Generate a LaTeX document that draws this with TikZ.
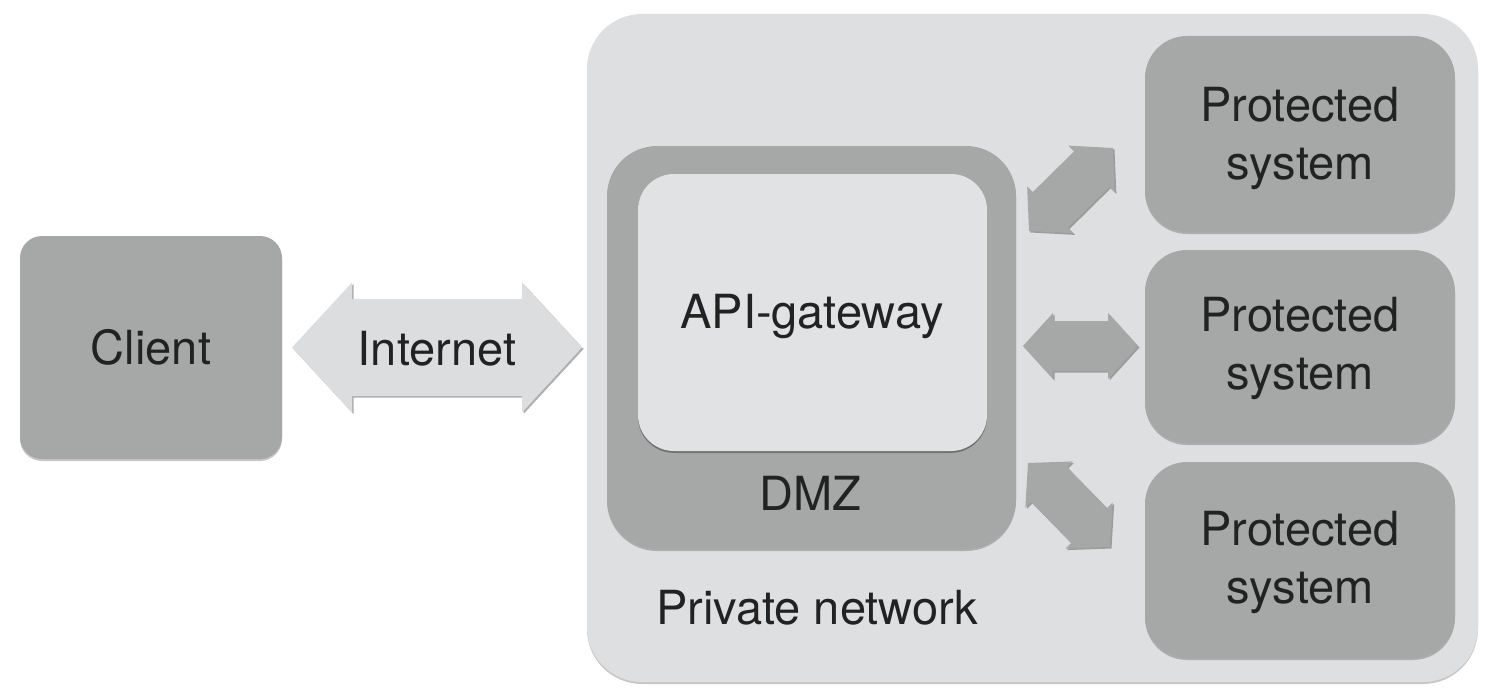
\documentclass[tikz,border=0pt]{standalone}
\usepackage{fontspec}
\setmainfont{TeX Gyre Heros}
\usetikzlibrary{calc,shadows}
\definecolor{boxgray}{HTML}{A5A8A7}
\definecolor{lightbg}{HTML}{DEDFE1}
\definecolor{apifill}{HTML}{E1E2E4}
\definecolor{arrowlight}{HTML}{DCDDDF}
\definecolor{txt}{HTML}{222222}
% #1 style, #2 tip A, #3 tip B, #4 head depth, #5 head half width, #6 shaft half width
\newcommand\dblarrow[6]{%
  \coordinate (#2-b) at ($(#2)!#4!(#3)$);
  \coordinate (#3-b) at ($(#3)!#4!(#2)$);
  \path[#1] (#2) -- ($(#2-b)!#5!-90:(#2)$) -- ($(#2-b)!#6!-90:(#2)$)
    -- ($(#3-b)!#6!90:(#3)$) -- ($(#3-b)!#5!90:(#3)$) -- (#3)
    -- ($(#3-b)!#5!-90:(#3)$) -- ($(#3-b)!#6!-90:(#3)$)
    -- ($(#2-b)!#6!90:(#2)$) -- ($(#2-b)!#5!90:(#2)$) -- cycle;}
\tikzset{
  every node/.style={font=\fontsize{47}{58}\selectfont, text=txt},
  boxshadow/.style={drop shadow={shadow xshift=0pt, shadow yshift=-2pt, opacity=0.22, fill=black}},
  box/.style={rectangle, fill=boxgray, draw=none, inner sep=0pt, boxshadow},
  protbox/.style={box, rounded corners=42pt, minimum width=310pt},
  arrowshadow/.style={drop shadow={shadow xshift=1.5pt, shadow yshift=-1.5pt, opacity=0.45, fill=black!70}},
}
\begin{document}
\begin{tikzpicture}[x=1pt, y=-1pt]
\useasboundingbox (0,0) rectangle (1498,698);
\fill[white] (0,0) rectangle (1498,698);

% private network
\node[box, fill=lightbg, rounded corners=55pt, minimum width=891pt, minimum height=668pt] (net) at (1032.5,348) {};
\node (netlabel) at (817,608) {Private network};

% DMZ and API gateway
\node[box, rounded corners=50pt, minimum width=409pt, minimum height=403pt] (dmz) at (811.5,347.5) {};
\node (dmzlabel) at (810,493) {DMZ};
\node[box, fill=apifill, rounded corners=36pt, minimum width=349pt, minimum height=277pt, drop shadow={shadow xshift=0pt, shadow yshift=-1.5pt, opacity=0.15, fill=black}] (api) at (812.5,312.5) {};
\node (apilabel) at (812,316) {API-gateway};

% protected systems
\node[protbox, minimum height=196pt] (p1) at (1300,134) {};
\node[protbox, minimum height=193pt] (p2) at (1300,346.5) {};
\node[protbox, minimum height=196pt] (p3) at (1300,560) {};
\node[align=center] (p1label) at ([yshift=-4pt]p1.center) {Protected\\system};
\node[align=center] (p2label) at ([yshift=-2pt]p2.center) {Protected\\system};
\node[align=center] (p3label) at ([yshift=-2pt]p3.center) {Protected\\system};

% client
\node[box, rounded corners=22pt, minimum width=262pt, minimum height=223pt] (client) at (151,347.5) {Client};

% arrows
\coordinate (i1) at (292,347.5);
\coordinate (i2) at (582,347.5);
\dblarrow{fill=arrowlight, arrowshadow}{i1}{i2}{60pt}{65pt}{48.5pt}
\node (netarrowlabel) at (437,349) {Internet};

\coordinate (m1) at (1023,346);
\coordinate (m2) at (1138,346);
\dblarrow{fill=boxgray, arrowshadow}{m1}{m2}{30pt}{33pt}{25pt}

\coordinate (t1) at (1029,231);
\coordinate (t2) at (1113,148);
\dblarrow{fill=boxgray, arrowshadow}{t1}{t2}{30pt}{33pt}{25pt}

\coordinate (b1) at (1028,463);
\coordinate (b2) at (1110,547);
\dblarrow{fill=boxgray, arrowshadow}{b1}{b2}{30pt}{33pt}{25pt}
\end{tikzpicture}
\end{document}
